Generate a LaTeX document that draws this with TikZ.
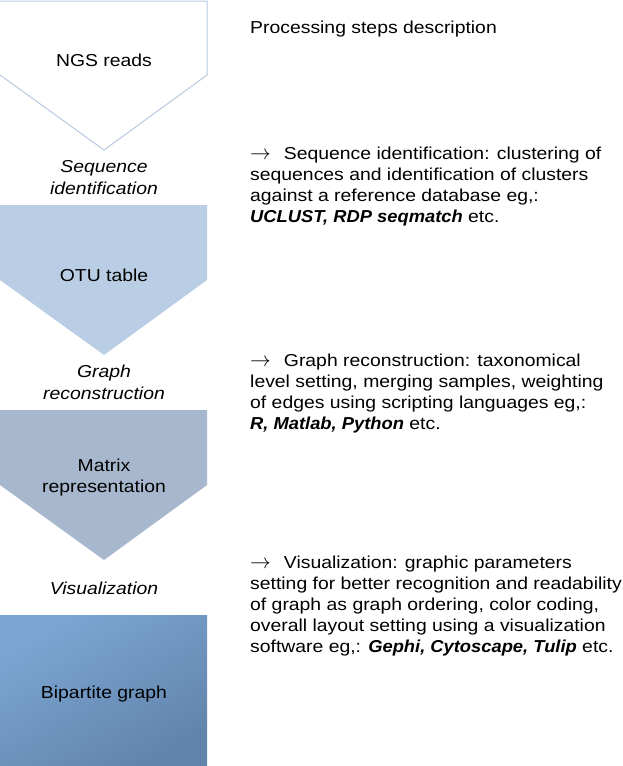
\documentclass[tikz,border=0pt]{standalone}
\usepackage{fontspec}
\setmainfont{Liberation Sans}[FakeStretch=1.12, BoldItalicFeatures={FakeStretch=1.06}]
\definecolor{edgeone}{HTML}{B8C9DE}
\definecolor{filltwo}{HTML}{B9CDE5}
\definecolor{fillthree}{HTML}{A7B7CD}
\definecolor{fourlight}{HTML}{7BA6D3}
\definecolor{fourdark}{HTML}{6284AC}
\newcommand{\steparrow}{{\fontsize{20}{20}\selectfont$\rightarrow$}\hspace{13pt}}
\begin{document}
\begin{tikzpicture}[x=1pt, y=-1pt, every node/.style={inner sep=0pt, font=\fontsize{17.3}{21}\selectfont},
box text/.style={anchor=base, align=center},
step label/.style={anchor=base, align=center, font=\fontsize{17.3}{22}\selectfont\itshape},
desc text/.style={anchor=base west, align=left}]
\useasboundingbox (0,0) rectangle (623,766);
%shapes
\draw[draw=edgeone, line width=1pt] (0,1) -- (207,1) -- (207,75) -- (104,150) -- (0,75);%1
\fill[filltwo] (0,205) -- (207,205) -- (207,280) -- (104,355) -- (0,280) -- cycle;%2
\fill[fillthree] (0,410) -- (207,410) -- (207,485) -- (104,560) -- (0,485) -- cycle;%3
\shade[top color=fourlight, bottom color=fourdark, shading angle=30] (0,615) rectangle (207,766);%4
% base anchor = last line
\begin{scope}
\node[box text] (ngs) at (104,66) {NGS reads};
\node[box text] (otu) at (104,281) {OTU table};
\node[box text] (matrix) at (104,492) {Matrix\\representation};
\node[box text] (bipartite) at (104,698) {Bipartite graph};
\end{scope}
\begin{scope}
\node[step label] (seqid) at (104,194) {Sequence\\identification};
\node[step label] (graphrec) at (104,399) {Graph\\reconstruction};
\node[step label] (visual) at (104,594) {Visualization};
\end{scope}
\begin{scope}
\node[desc text] (head) at (250,33) {Processing steps description};
\node[desc text] (descseq) at (250,222) {\steparrow Sequence identification: clustering of\\
sequences and identification of clusters\\
against a reference database eg,:\\
\textbf{\textit{UCLUST, RDP seqmatch}} etc.};
\node[desc text] (descgraph) at (250,429) {\steparrow Graph reconstruction: taxonomical\\
level setting, merging samples, weighting\\
of edges using scripting languages eg,:\\
\textbf{\textit{R, Matlab, Python}} etc.};
\node[desc text] (descvis) at (250,652) {\steparrow Visualization: graphic parameters\\
setting for better recognition and readability\\
of graph as graph ordering, color coding,\\
overall layout setting using a visualization\\
software eg,: \textbf{\textit{Gephi, Cytoscape, Tulip}} etc.};
\end{scope}
\end{tikzpicture}
\end{document}
